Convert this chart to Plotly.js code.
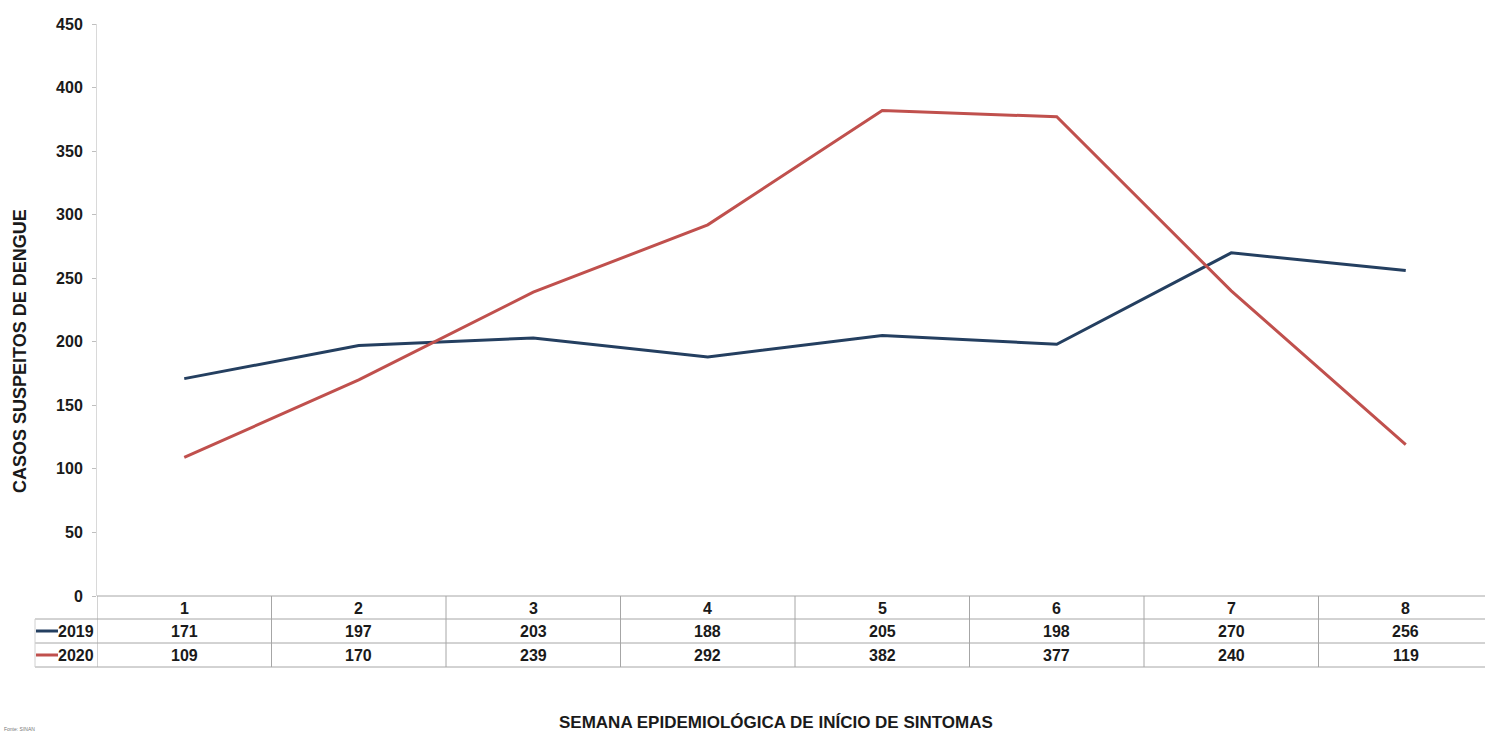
<!DOCTYPE html>
<html>
<head>
<meta charset="utf-8">
<script src="https://cdn.plot.ly/plotly-3.0.1.min.js"></script>
<style>
  html, body { margin: 0; padding: 0; background: #fff; }
  #chart { width: 1485px; height: 733px; }
</style>
</head>
<body>
<div id="chart"></div>
<script>
// Semanas epidemiológicas e casos suspeitos por ano
const semanas = [1, 2, 3, 4, 5, 6, 7, 8];
const casos2019 = [171, 197, 203, 188, 205, 198, 270, 256];
const casos2020 = [109, 170, 239, 292, 382, 377, 240, 119];
const anos = ['2019', '2020'];
const cores = ['#243F60', '#C0504D'];
const yTicks = [0, 50, 100, 150, 200, 250, 300, 350, 400, 450];

const W = 1485, H = 733;
const M = { l: 97, r: 0, t: 24, b: 137 };
const plotH = H - M.t - M.b;   // 572
const plotW = W - M.l - M.r;   // 1388

// convert pixel offsets below / left of the plot area to paper coordinates
const py = px => (H - M.b - px) / plotH;
const pxX = px => (px - M.l) / plotW;

const FONT = 'Liberation Sans, Arial, sans-serif';
const gridColor = '#A6A6A6';
const TXT = '#1a1a1a';

const traces = [casos2019, casos2020].map((vals, i) => ({
  type: 'scatter',
  mode: 'lines',
  x: semanas,
  y: vals,
  name: anos[i],
  line: { color: cores[i], width: 3 },
  hoverinfo: 'x+y+name'
}));

// data table underneath the plot
const rowLines = [619, 643, 667];
const shapes = [];
// top line of the table (x axis baseline)
shapes.push({ type: 'line', xref: 'paper', yref: 'paper', x0: 0, x1: 1, y0: 0, y1: 0,
  line: { color: gridColor, width: 1 } });
rowLines.forEach(r => {
  shapes.push({ type: 'line', xref: 'paper', yref: 'paper', x0: pxX(35), x1: 1, y0: py(r), y1: py(r),
    line: { color: gridColor, width: 1 } });
});
// column separators
for (let k = 0; k <= semanas.length; k++) {
  shapes.push({ type: 'line', xref: 'x', yref: 'paper', x0: k + 0.5, x1: k + 0.5,
    y0: 0, y1: py(667), line: { color: gridColor, width: 1 } });
}
// left edge of the legend column
shapes.push({ type: 'line', xref: 'paper', yref: 'paper', x0: pxX(35), x1: pxX(35),
  y0: py(619), y1: py(667), line: { color: '#D0D0D0', width: 1 } });

const rowCenters = [608, 631, 655];
const annotations = [];
const tfont = { family: FONT, size: 16, color: TXT, weight: 'bold' };

semanas.forEach((s, i) => {
  annotations.push({ xref: 'x', yref: 'paper', x: s, y: py(rowCenters[0]), text: String(s),
    showarrow: false, font: tfont, xanchor: 'center', yanchor: 'middle' });
  [casos2019, casos2020].forEach((vals, j) => {
    annotations.push({ xref: 'x', yref: 'paper', x: s, y: py(rowCenters[j + 1]), text: String(vals[i]),
      showarrow: false, font: tfont, xanchor: 'center', yanchor: 'middle' });
  });
});

anos.forEach((a, j) => {
  const yc = py(rowCenters[j + 1]);
  shapes.push({ type: 'line', xref: 'paper', yref: 'paper', x0: pxX(36), x1: pxX(58), y0: yc, y1: yc,
    line: { color: cores[j], width: 3 } });
  annotations.push({ xref: 'paper', yref: 'paper', x: pxX(96), y: yc, text: a,
    showarrow: false, font: tfont, xanchor: 'right', yanchor: 'middle' });
});

// axis titles
annotations.push({ xref: 'paper', yref: 'paper', x: pxX(20), y: py(351),
  text: 'CASOS SUSPEITOS DE DENGUE', textangle: -90, showarrow: false,
  font: { family: FONT, size: 18, color: TXT, weight: 'bold' },
  xanchor: 'center', yanchor: 'middle' });
annotations.push({ xref: 'paper', yref: 'paper', x: pxX(776), y: py(722),
  text: 'SEMANA EPIDEMIOLÓGICA DE INÍCIO DE SINTOMAS', showarrow: false,
  font: { family: FONT, size: 17, color: TXT, weight: 'bold' },
  xanchor: 'center', yanchor: 'middle' });
// source note
annotations.push({ xref: 'paper', yref: 'paper', x: pxX(2), y: py(729),
  text: 'Fonte: SINAN', showarrow: false,
  font: { family: FONT, size: 5, color: '#777' },
  xanchor: 'left', yanchor: 'middle' });

const layout = {
  width: W, height: H,
  margin: M,
  paper_bgcolor: '#fff',
  plot_bgcolor: '#fff',
  showlegend: false,
  font: { family: FONT },
  xaxis: {
    range: [0.5, 0.5 + plotW / 174.5],
    showgrid: false, zeroline: false, showline: false,
    showticklabels: false, ticks: '', fixedrange: true
  },
  yaxis: {
    range: [0, 450],
    tickvals: yTicks,
    ticktext: yTicks.map(String),
    showgrid: false, zeroline: false,
    showline: true, linecolor: '#D9D9D9', linewidth: 1,
    ticks: 'outside', ticklen: 4, tickcolor: '#BFBFBF',
    tickfont: { family: FONT, size: 16, color: TXT, weight: 'bold' },
    ticklabelstandoff: 6,
    fixedrange: true
  },
  shapes: shapes,
  annotations: annotations
};

Plotly.newPlot('chart', traces, layout, { displayModeBar: false, staticPlot: true });
</script>
</body>
</html>
